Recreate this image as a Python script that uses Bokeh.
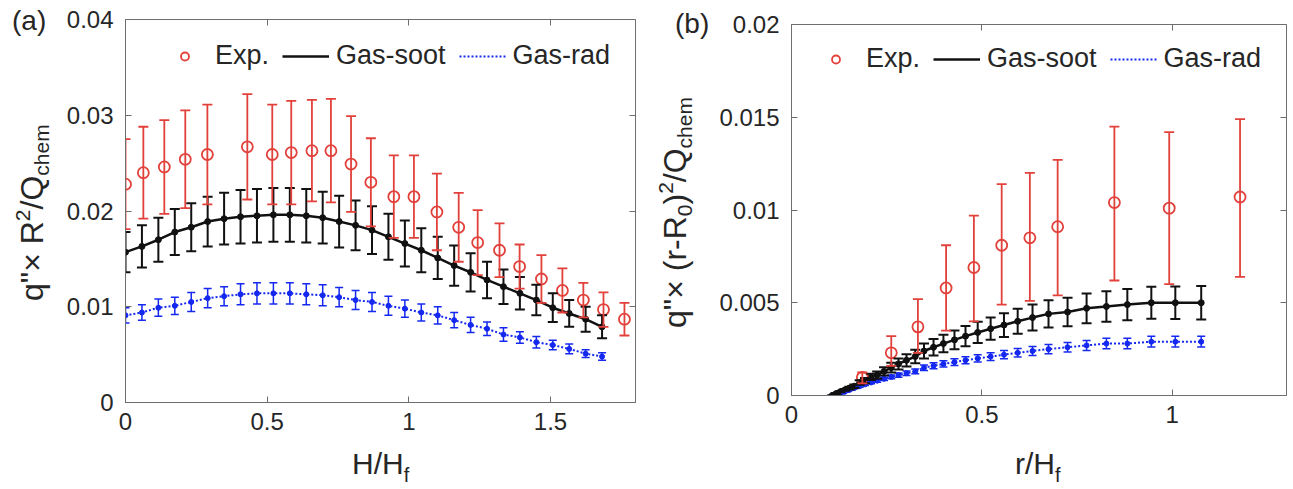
from bokeh.plotting import figure
from bokeh.layouts import row, column
from bokeh.models import (ColumnDataSource, Whisker, TeeHead, Legend, LegendItem, FixedTicker,
                          LinearAxis, Range1d, Div)
from bokeh.embed import file_html
from bokeh.resources import INLINE

# ---------------- DATA ----------------
# panel (a)
a_exp_x = [0, 0.063, 0.137, 0.211, 0.289, 0.430, 0.518, 0.585, 0.658, 0.725, 0.796, 0.866,
           0.947, 1.018, 1.099, 1.176, 1.243, 1.320, 1.391, 1.468, 1.542, 1.616, 1.687, 1.761]
a_exp_y = [0.0228, 0.0240, 0.0246, 0.0254, 0.0259, 0.0267, 0.0259, 0.0261, 0.0263, 0.0263, 0.0249, 0.0230,
           0.0215, 0.0215, 0.0199, 0.0183, 0.0167, 0.0159, 0.0142, 0.0129, 0.0117, 0.0107, 0.0097, 0.0087]
a_exp_hi = [0.0275, 0.0288, 0.0295, 0.0305, 0.0311, 0.0322, 0.0311, 0.0315, 0.0316, 0.0317, 0.0299, 0.0276,
            0.0258, 0.0258, 0.0239, 0.0219, 0.0201, 0.0187, 0.0165, 0.0154, 0.0140, 0.0125, 0.0115, 0.0104]
a_exp_lo = [0.0181, 0.0192, 0.0197, 0.0203, 0.0207, 0.0212, 0.0207, 0.0207, 0.0210, 0.0209, 0.0199, 0.0184,
            0.0172, 0.0172, 0.0159, 0.0147, 0.0133, 0.0131, 0.0119, 0.0104, 0.0094, 0.0089, 0.0079, 0.0070]

a_sim_x = [0, 0.058, 0.116, 0.174, 0.232, 0.290, 0.348, 0.406, 0.464, 0.522, 0.580, 0.638, 0.696, 0.754, 0.812,
           0.870, 0.928, 0.986, 1.044, 1.102, 1.160, 1.218, 1.276, 1.334, 1.392, 1.450, 1.508, 1.566, 1.624, 1.682]
a_soot_y = [0.0157, 0.0163, 0.0170, 0.0178, 0.0183, 0.0189, 0.0192, 0.0194, 0.0195, 0.0196, 0.0196, 0.0195,
            0.0193, 0.0189, 0.0185, 0.0180, 0.0173, 0.0166, 0.0159, 0.0151, 0.0143, 0.0136, 0.0128, 0.0121,
            0.0114, 0.0107, 0.0099, 0.0093, 0.0087, 0.0079]
a_soot_err = [0.0021, 0.0022, 0.0023, 0.0024, 0.0025, 0.0026, 0.0027, 0.0028, 0.0028, 0.0028, 0.0028, 0.0028,
              0.0027, 0.0027, 0.0026, 0.0025, 0.0024, 0.0024, 0.0023, 0.0022, 0.0021, 0.0020, 0.0019, 0.0018,
              0.0017, 0.0016, 0.0015, 0.0014, 0.0013, 0.0012]
a_rad_y = [0.0091, 0.0094, 0.0099, 0.0101, 0.0105, 0.0109, 0.0111, 0.0113, 0.0114, 0.0114, 0.0114, 0.0113,
           0.0112, 0.0110, 0.0107, 0.0105, 0.0101, 0.0098, 0.0094, 0.0091, 0.0086, 0.0081, 0.0077, 0.0071,
           0.0068, 0.0063, 0.0060, 0.0056, 0.0051, 0.0048]
a_rad_err = [0.0008, 0.0008, 0.0009, 0.0009, 0.0010, 0.0010, 0.0010, 0.0011, 0.0011, 0.0011, 0.0011, 0.0011,
             0.0011, 0.0010, 0.0010, 0.0010, 0.0010, 0.0009, 0.0009, 0.0009, 0.0008, 0.0008, 0.0007, 0.0007,
             0.0006, 0.0006, 0.0005, 0.0005, 0.0004, 0.0004]

# panel (b)
b_exp_x = [0.186, 0.262, 0.332, 0.406, 0.479, 0.552, 0.626, 0.699, 0.848, 0.992, 1.178]
b_exp_y = [0.00097, 0.0023, 0.0037, 0.0058, 0.0069, 0.0081, 0.0085, 0.0091, 0.0104, 0.0101, 0.0107]
b_exp_hi = [0.00124, 0.0032, 0.0052, 0.0081, 0.0097, 0.0114, 0.0120, 0.0127, 0.0145, 0.0142, 0.0149]
b_exp_lo = [0.00065, 0.0016, 0.0023, 0.0035, 0.0040, 0.0049, 0.0051, 0.0054, 0.0062, 0.0060, 0.0064]

b_sim_x = [0.107, 0.117, 0.128, 0.140, 0.152, 0.165, 0.179, 0.193, 0.209, 0.225, 0.243, 0.262, 0.281,
           0.302, 0.325, 0.348, 0.373, 0.399, 0.428, 0.457, 0.489, 0.523, 0.558, 0.594, 0.633, 0.675,
           0.725, 0.775, 0.827, 0.882, 0.945, 1.008, 1.076]
b_soot_y = [0.0000, 0.0001, 0.0002, 0.0003, 0.0004, 0.0005, 0.0007, 0.0008, 0.0010, 0.0011, 0.0013, 0.0015,
            0.0017, 0.0019, 0.0021, 0.0024, 0.0026, 0.0028, 0.0030, 0.0032, 0.0034, 0.0036, 0.0038, 0.0040,
            0.0042, 0.0044, 0.0045, 0.0047, 0.0048, 0.0049, 0.0050, 0.0050, 0.0050]
b_soot_err = [0, 0.00002, 0.00003, 0.00005, 0.00007, 0.00009, 0.00012, 0.00014, 0.00017, 0.0002, 0.00022,
              0.00026, 0.0003, 0.00033, 0.00036, 0.0004, 0.00044, 0.00047, 0.0005, 0.00054, 0.00057, 0.0006,
              0.00064, 0.00067, 0.0007, 0.00074, 0.00077, 0.0008, 0.00082, 0.00084, 0.00086, 0.00088, 0.0009]
b_rad_y = [0.0000, 0.0001, 0.0001, 0.0002, 0.0003, 0.0004, 0.0005, 0.0006, 0.0007, 0.0008, 0.0009, 0.0010,
           0.0011, 0.0012, 0.0013, 0.0015, 0.0016, 0.0017, 0.0018, 0.0019, 0.0020, 0.0021, 0.0022, 0.0023,
           0.0024, 0.0025, 0.0026, 0.0027, 0.0028, 0.0028, 0.0029, 0.0029, 0.0029]
b_rad_err = [0, 0.00001, 0.00001, 0.00002, 0.00003, 0.00004, 0.00005, 0.00006, 0.00007, 0.00008, 0.00009,
             0.0001, 0.00011, 0.00012, 0.00013, 0.00015, 0.00016, 0.00017, 0.00018, 0.00019, 0.0002, 0.00021,
             0.00022, 0.00023, 0.00024, 0.00025, 0.00026, 0.00027, 0.00028, 0.00028, 0.00029, 0.00029, 0.00029]

# ticks
a_xticks = [0, 0.5, 1, 1.5]
a_xlabels = ["0", "0.5", "1", "1.5"]
a_yticks = [0, 0.01, 0.02, 0.03, 0.04]
a_ylabels = ["0", "0.01", "0.02", "0.03", "0.04"]
b_xticks = [0, 0.5, 1]
b_xlabels = ["0", "0.5", "1"]
b_yticks = [0, 0.005, 0.01, 0.015, 0.02]
b_ylabels = ["0", "0.005", "0.01", "0.015", "0.02"]
legend_labels = ["Exp.", "Gas-soot", "Gas-rad"]

# ---------------- STYLE ----------------
FONT = "Liberation Sans"
TXT = "#262626"
AX = "#6e6e6e"
RED = "#e2403a"
BLK = "#111111"
BLU = "#1428f0"
CSSFONT = "font-family:'Liberation Sans',Arial,sans-serif;color:%s;" % TXT


def make_fig(w, h, mbl, mbr, mbt, mbb, xr, yr, xt, xl, yt, yl):
    p = figure(width=w, height=h, min_border_left=mbl, min_border_right=mbr, min_border_top=mbt,
               min_border_bottom=mbb, x_range=Range1d(*xr), y_range=Range1d(*yr),
               output_backend="svg", toolbar_location=None, title=None)
    p.xgrid.visible = False
    p.ygrid.visible = False
    p.outline_line_color = AX
    p.outline_line_width = 1
    for ax, ticks, labels in ((p.xaxis[0], xt, xl), (p.yaxis[0], yt, yl)):
        ax.ticker = FixedTicker(ticks=ticks)
        ax.major_label_overrides = {t: s for t, s in zip(ticks, labels)}
        ax.major_label_text_font = FONT
        ax.major_label_text_font_size = "24px"
        ax.major_label_text_color = TXT
        ax.axis_line_color = AX
        ax.major_tick_line_color = AX
        ax.major_tick_in = 6
        ax.major_tick_out = 0
        ax.minor_tick_line_color = None
    p.xaxis[0].major_label_standoff = 10
    p.yaxis[0].major_label_standoff = 12
    for loc, ticks in (("above", xt), ("right", yt)):
        ax = LinearAxis(ticker=FixedTicker(ticks=ticks), major_label_overrides={t: "" for t in ticks},
                        major_label_text_color=None, axis_line_color=None, major_tick_line_color=AX,
                        major_tick_in=6, major_tick_out=0, minor_tick_line_color=None,
                        major_label_standoff=0)
        p.add_layout(ax, loc)
    return p


def draw(p, ex, ey, elo, ehi, sx, sy, serr, ry, rerr, legend_loc):
    rad_src = ColumnDataSource(dict(x=sx, y=ry, lo=[a - b for a, b in zip(ry, rerr)],
                                    hi=[a + b for a, b in zip(ry, rerr)]))
    soot_src = ColumnDataSource(dict(x=sx, y=sy, lo=[a - b for a, b in zip(sy, serr)],
                                     hi=[a + b for a, b in zip(sy, serr)]))
    exp_src = ColumnDataSource(dict(x=ex, y=ey, lo=elo, hi=ehi))

    p.add_layout(Whisker(source=rad_src, base="x", lower="lo", upper="hi", line_color=BLU, line_width=1.5,
                         upper_head=TeeHead(size=8, line_color=BLU, line_width=1.5),
                         lower_head=TeeHead(size=8, line_color=BLU, line_width=1.5), level="glyph"))
    r_rad = p.line("x", "y", source=rad_src, line_color=BLU, line_width=2, line_dash="2 2")
    p.scatter("x", "y", source=rad_src, size=5, marker="circle", fill_color=BLU, line_color=BLU)

    p.add_layout(Whisker(source=soot_src, base="x", lower="lo", upper="hi", line_color=BLK, line_width=2,
                         upper_head=TeeHead(size=10, line_color=BLK, line_width=2),
                         lower_head=TeeHead(size=10, line_color=BLK, line_width=2), level="glyph"))
    r_soot = p.line("x", "y", source=soot_src, line_color=BLK, line_width=2.5)
    p.scatter("x", "y", source=soot_src, size=6, marker="circle", fill_color=BLK, line_color=BLK)

    p.add_layout(Whisker(source=exp_src, base="x", lower="lo", upper="hi", line_color=RED, line_width=1.8,
                         upper_head=TeeHead(size=10, line_color=RED, line_width=1.8),
                         lower_head=TeeHead(size=10, line_color=RED, line_width=1.8), level="glyph"))
    r_exp = p.scatter("x", "y", source=exp_src, size=11, marker="circle", fill_color=None,
                      line_color=RED, line_width=1.8)

    leg = Legend(items=[LegendItem(label=legend_labels[0], renderers=[r_exp]),
                        LegendItem(label=legend_labels[1], renderers=[r_soot]),
                        LegendItem(label=legend_labels[2], renderers=[r_rad])],
                 orientation="horizontal", location=legend_loc, label_text_font=FONT,
                 label_text_font_size="27px", label_text_color=TXT, glyph_width=47, glyph_height=20,
                 label_standoff=7, spacing=13, padding=6, margin=0, border_line_color=None,
                 background_fill_alpha=0)
    p.add_layout(leg, "center")


def span(text, size, dy):
    return '<span style="font-size:%dpx;position:relative;top:%dpx">%s</span>' % (size, dy, text)


def abs_text(left, top, size, html, vertical=False):
    rot = "transform:rotate(-90deg);transform-origin:0 0;" if vertical else ""
    return ('<div style="position:absolute;left:%.1fpx;top:%.1fpx;font-size:%dpx;line-height:1;'
            'white-space:nowrap;%s">%s</div>' % (left, top, size, rot, html))


def box(w, h, inner):
    return Div(text='<div style="position:relative;width:%dpx;height:%dpx;%s">%s</div>' % (w, h, CSSFONT, inner),
               width=w, height=h, margin=0)


# ---------------- PANEL (a) ----------------
pa = make_fig(582, 445, 67, 5, 19, 43, (0, 1.8), (0, 0.04), a_xticks, a_xlabels, a_yticks, a_ylabels)
draw(pa, a_exp_x, a_exp_y, a_exp_lo, a_exp_hi, a_sim_x, a_soot_y, a_soot_err, a_rad_y, a_rad_err,
     (36, 331))
a_ylab = 'q&quot;× R' + span("2", 21, -13) + "/Q" + span("chem", 21, 6)
a_left = box(58, 487, abs_text(12, 7, 28, "(a)") + abs_text(16.4, 301, 32, a_ylab, vertical=True))
a_bottom = box(582, 42, abs_text(294, 3.6, 30, "H/H" + span("f", 20, 8)))

# ---------------- PANEL (b) ----------------
pb = make_fig(576, 438, 76, 5, 24, 43, (0, 1.3), (0, 0.02), b_xticks, b_xlabels, b_yticks, b_ylabels)
draw(pb, b_exp_x, b_exp_y, b_exp_lo, b_exp_hi, b_sim_x, b_soot_y, b_soot_err, b_rad_y, b_rad_err,
     (21, 321))
b_ylab = 'q&quot;× (r-R' + span("0", 21, 6) + ")" + span("2", 21, -13) + "/Q" + span("chem", 21, 6)
b_left = box(75, 487, abs_text(35, 10, 28, "(b)") + abs_text(18.9, 328, 32, b_ylab, vertical=True))
b_bottom = box(576, 49, abs_text(300, 10.6, 30, "r/H" + span("f", 20, 8)))

layout = row(a_left, column(pa, a_bottom), b_left, column(pb, b_bottom))
open("out.html", "w").write(file_html(layout, INLINE))
